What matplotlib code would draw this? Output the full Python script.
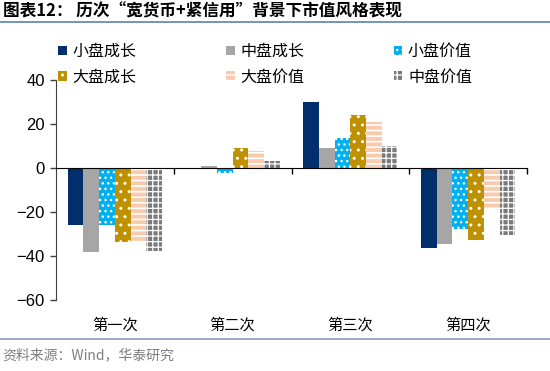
import matplotlib
matplotlib.use("Agg")
import matplotlib.pyplot as plt
import numpy as np
from matplotlib.lines import Line2D

plt.rcParams['font.family'] = ['Liberation Sans', 'Noto Sans CJK SC']
CJK = ['Noto Sans CJK SC', 'DejaVu Sans']

# data
categories = ['第一次', '第二次', '第三次', '第四次']
series = ['小盘成长', '中盘成长', '小盘价值', '大盘成长', '大盘价值', '中盘价值']
small_growth = [-26.0, -0.3, 30.0, -36.5]
mid_growth = [-38.3, 0.8, 8.9, -34.7]
small_value = [-25.7, -2.4, 13.8, -27.6]
large_growth = [-33.8, 9.3, 23.9, -32.7]
large_value = [-33.2, 7.8, 21.0, -18.2]
mid_value = [-37.8, 3.1, 10.2, -30.3]
values = [small_growth, mid_growth, small_value, large_growth, large_value, mid_value]

# style per series: face, hatch, hatch colour, hatch linewidth
styles = [
    ('#002F6C', None, 'none', 1.0),
    ('#A6A6A6', None, 'none', 1.0),
    ('#00B0F0', '...', 'white', 1.0),
    ('#BF9000', '..', 'white', 1.0),
    ('#F8CBAD', '---', 'white', 1.2),
    ('#7A7A7A', '+++', 'white', 0.9),
]

fig = plt.figure(figsize=(5.5, 3.71), dpi=100)
ax = fig.add_axes([56 / 550, 71 / 371, 471 / 550, 220 / 371])

x = np.arange(len(categories))
w = 0.8 / len(series)
handles = []
for i, (name, vals) in enumerate(zip(series, values)):
    face, hatch, hc, hlw = styles[i]
    with plt.rc_context({'hatch.linewidth': hlw}):
        b = ax.bar(x - 0.4 + w * (i + 0.5), vals, width=w, color=face,
                   hatch=hatch, edgecolor=hc, linewidth=0, label=name)
    handles.append(b)

ax.set_xlim(-0.5, 3.5)
ax.set_ylim(-60, 40)
ax.set_yticks([-60, -40, -20, 0, 20, 40])
ax.tick_params(axis='y', labelsize=12, length=4, width=1, color='#404040', pad=4)
ax.spines['left'].set_color('#404040')
ax.spines['right'].set_visible(False)
ax.spines['top'].set_visible(False)
ax.spines['bottom'].set_position(('data', 0))
ax.spines['bottom'].set_color('black')
ax.set_xticks([0.5, 1.5, 2.5, 3.5])
ax.set_xticklabels([])
ax.tick_params(axis='x', length=4, width=1, direction='out')

for i, c in enumerate(categories):
    ax.text(i, -0.114, c, transform=ax.get_xaxis_transform(), ha='center',
            va='center', fontsize=11, family=CJK)

order = [0, 3, 1, 4, 2, 5]
fig.legend([handles[k] for k in order], [series[k] for k in order], ncol=3,
           loc='upper left', bbox_to_anchor=(58 / 550, 1 - 43 / 371),
           frameon=False, borderaxespad=0, borderpad=0,
           handlelength=0.55, handleheight=0.55, handletextpad=0.35,
           columnspacing=5.6, labelspacing=0.55,
           prop={'family': CJK, 'size': 11.5})

fig.text(3 / 550, 1 - 11 / 371, '图表12： 历次“宽货币+紧信用”背景下市值风格表现',
         ha='left', va='center', fontsize=12, fontweight='bold', family=CJK)
fig.add_artist(Line2D([0, 1], [1 - 22 / 371] * 2, transform=fig.transFigure,
                      color='#6A8BB0', lw=1.3))
fig.add_artist(Line2D([0, 1], [1 - 339 / 371] * 2, transform=fig.transFigure,
                      color='#8EA4BE', lw=1.3))
fig.text(2 / 550, 1 - 355 / 371, '资料来源：Wind，华泰研究', ha='left',
         va='center', fontsize=10, color='#7F7F7F', family=CJK)

fig.savefig('out.png', dpi=100)
